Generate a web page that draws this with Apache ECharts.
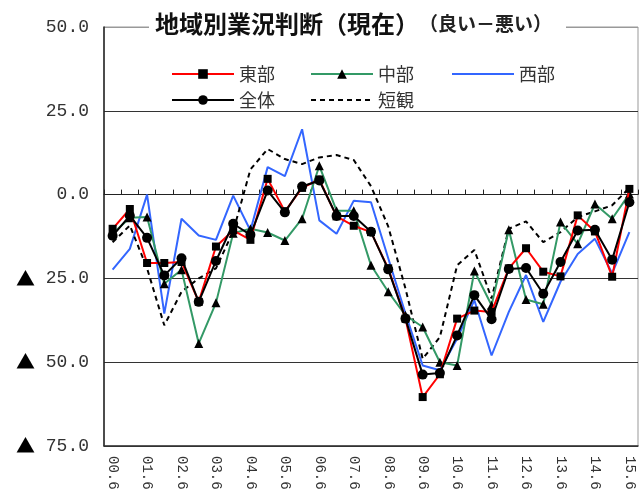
<!DOCTYPE html>
<html><head><meta charset="utf-8">
<script src="https://cdn.jsdelivr.net/npm/echarts@6/dist/echarts.min.js"></script>
<style>html,body{margin:0;padding:0;background:#fff}#c{width:640px;height:495px}</style>
</head><body><div id="c"></div>
<script>
const categories = ['00.6','00.12','01.6','01.12','02.6','02.12','03.6','03.12','04.6','04.12','05.6','05.12','06.6','06.12','07.6','07.12','08.6','08.12','09.6','09.12','10.6','10.12','11.6','11.12','12.6','12.12','13.6','13.12','14.6','14.12','15.6'];
const east    = [-10.2,-4.3,-20.4,-20.4,-20.1,-32,-15.5,-10.7,-13.5,4.7,-5,2,4.5,-6.5,-9.3,-11.2,-22,-37,-60.4,-53.6,-37,-34.6,-35,-22,-16,-23,-24.4,-6.2,-11,-24.5,1.7];
const central = [-11.7,-6.9,-6.7,-26.6,-22.4,-44.4,-32.3,-11.5,-10.2,-11.3,-13.7,-7.2,8.6,-4.8,-4.8,-21.1,-29,-36,-39.5,-50,-51,-22.8,-33,-10.5,-31.3,-32.7,-8.2,-14.7,-2.8,-7.2,0.2];
const west    = [-22.4,-16.2,0,-35.5,-7.2,-12.2,-13.5,-0.3,-10.7,8.2,5.5,19.5,-7.7,-11.7,-1.8,-2.3,-19,-35.5,-51,-52.4,-43,-31.5,-48,-35,-24,-38,-26,-17.7,-13.2,-23.5,-11.2];
const total   = [-12.3,-6.3,-12.9,-24.1,-19,-32,-19.8,-8.7,-12,1.2,-5.3,2.4,4.2,-6.4,-6.4,-11.1,-22.3,-37,-53.7,-53.2,-42,-30,-37.2,-22.2,-21.9,-29.6,-20.1,-10.7,-10.5,-19.4,-2.3];
const tankan  = [-14.2,-9.2,-22,-39,-29,-25,-22,-11,7.5,13.6,10.6,9.1,11.1,11.8,10.3,2.5,-9.5,-28,-49,-42.5,-21.1,-16.5,-31,-10.2,-8,-14.2,-11.2,-6.7,-5,-3.2,2];
const yTicks = [-75,-50,-25,0,25,50];
const names = ['東部','中部','西部','全体','短観'];

const chart = echarts.init(document.getElementById('c'));
const cjk = 'Noto Sans CJK JP';
const legendBase = {textStyle:{fontSize:18,color:'#333',fontFamily:cjk},itemWidth:62,itemHeight:12,selectedMode:false,lineStyle:{width:2}};
chart.setOption({
  animation:false,
  title:{
    text:'{a|地域別業況判断（現在）}{b|（良い－悪い）}',
    left:149, top:9, backgroundColor:'#fff', padding:[0,14,0,6], z:10,
    textStyle:{rich:{
      a:{fontSize:24,fontWeight:'bold',fontFamily:cjk,color:'#111',lineHeight:30},
      b:{fontSize:19,fontFamily:cjk,color:'#222',lineHeight:30}
    }}
  },
  legend:[
    Object.assign({data:[names[0]],left:166,top:60},legendBase),
    Object.assign({data:[names[1]],left:305,top:60},legendBase),
    Object.assign({data:[names[2]],left:446,top:60,itemStyle:{opacity:0}},legendBase),
    Object.assign({data:[names[3]],left:166,top:86},legendBase),
    Object.assign({data:[names[4]],left:305,top:86,itemStyle:{opacity:0}},legendBase)
  ],
  grid:{left:104,right:2,top:27,bottom:49,containLabel:false,outerBoundsMode:'none',show:true,borderColor:'#999',borderWidth:1},
  xAxis:[{
    type:'category',data:categories,boundaryGap:true,position:'bottom',
    axisLine:{onZero:false,lineStyle:{color:'#333',width:1.5}},
    axisTick:{show:false},
    axisLabel:{interval:1,rotate:-90,margin:10,fontSize:14,fontFamily:'Liberation Mono',color:'#333'}
  },{
    type:'category',data:categories,boundaryGap:true,position:'top',
    axisLine:{onZero:true,lineStyle:{color:'#222',width:1}},
    axisTick:{show:true,interval:0,length:5,lineStyle:{color:'#222'}},
    axisLabel:{show:false}
  }],
  yAxis:{
    type:'value',min:-75,max:50,interval:25,
    axisLine:{show:true,lineStyle:{color:'#222',width:1.5}},
    axisTick:{show:false},
    splitLine:{show:true,lineStyle:{color:['#333','#333','#333','#333','#333','#999'],width:1}},
    axisLabel:{margin:15,fontSize:18,fontFamily:'Liberation Mono',color:'#333',
      formatter:function(v){return v<0?'{t|▲} '+Math.abs(v).toFixed(1):v.toFixed(1);},
      rich:{t:{fontFamily:cjk,fontSize:19,color:'#000'}}}
  },
  series:[
    {name:names[2],type:'line',data:west,symbol:'none',lineStyle:{color:'#3366ff',width:2},itemStyle:{color:'#3366ff'},z:2},
    {name:names[4],type:'line',data:tankan,symbol:'none',lineStyle:{color:'#000',width:2,type:[5,4]},itemStyle:{color:'#000'},z:3},
    {name:names[1],type:'line',data:central,symbol:'triangle',symbolSize:9,lineStyle:{color:'#339966',width:2},itemStyle:{color:'#000'},z:4},
    {name:names[0],type:'line',data:east,symbol:'rect',symbolSize:8,lineStyle:{color:'#ff0000',width:2},itemStyle:{color:'#000'},z:5},
    {name:names[3],type:'line',data:total,symbol:'circle',symbolSize:10,lineStyle:{color:'#000',width:2},itemStyle:{color:'#000'},z:6}
  ]
});
</script></body></html>
